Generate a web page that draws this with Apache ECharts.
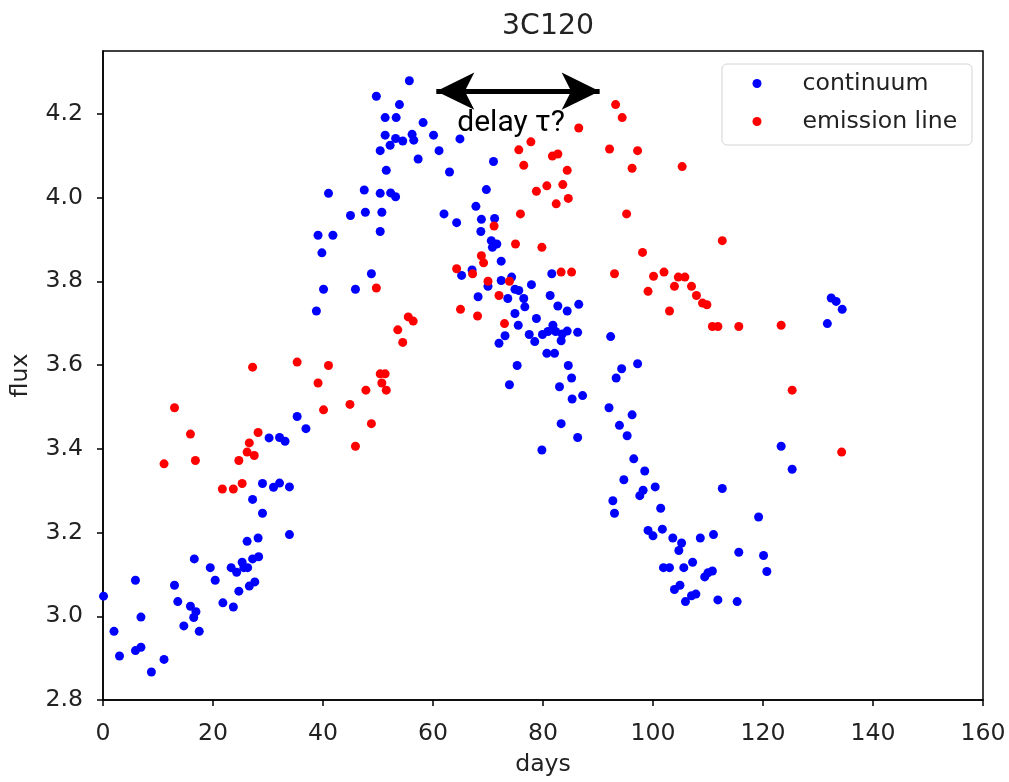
<!DOCTYPE html>
<html>
<head>
<meta charset="utf-8">
<style>
  html, body { margin: 0; padding: 0; background: #fff; }
  #chart { width: 1009px; height: 782px; }
</style>
<script src="https://cdn.jsdelivr.net/npm/echarts@6/dist/echarts.min.js"></script>
</head>
<body>
<div id="chart"></div>
<script>
// ---------- data ----------
const titleText = '3C120';
const seriesNames = ['continuum', 'emission line'];
const xTicks = [0, 20, 40, 60, 80, 100, 120, 140, 160];
const yTicks = [2.8, 3.0, 3.2, 3.4, 3.6, 3.8, 4.0, 4.2];

const continuumDays = [
  0.1, 2.0, 3.0, 5.9, 5.9, 6.9, 6.9, 8.8, 11.1, 13.0, 13.6, 14.7, 15.9, 16.6, 16.9, 16.5, 17.5,
  19.5, 20.4, 21.8, 23.3, 23.7, 24.3, 24.7, 25.3, 25.6, 26.3, 26.2, 26.6, 27.2, 27.6, 28.3, 28.2,
  27.2, 29.0, 29.0, 31.0, 32.1, 33.9, 33.9, 30.2, 32.1, 33.1, 35.3, 36.9,
  38.8, 39.8, 39.1, 41.8, 40.1, 41.0, 45.0, 45.9, 47.5, 47.7, 48.8, 49.7, 50.4, 50.4, 50.4, 50.7,
  51.3, 51.3, 51.5, 52.2, 52.3, 53.2, 53.3, 53.2, 53.9, 54.5, 55.7, 56.2, 56.5, 57.3, 58.2, 60.1,
  61.1, 62.0, 63.0, 64.3, 64.9, 65.2, 67.1, 67.8, 68.2, 68.7, 68.8, 69.7, 70.0, 70.6, 70.8, 71.0,
  71.2, 71.6, 72.0, 72.4, 72.4, 73.1, 73.6, 73.9, 74.3, 74.9, 74.9, 75.3, 75.5, 75.6, 76.5, 76.7,
  77.5, 77.9, 78.5, 78.8, 79.8, 79.9, 80.7, 80.9, 81.3, 81.6, 81.8, 82.1, 82.3, 82.7, 83.0, 83.3,
  83.3, 83.5, 84.4, 84.4, 84.6, 85.2, 85.3, 86.3, 86.3, 86.5, 87.2,
  92.0, 92.3, 92.7, 93.0, 93.3, 93.9, 94.3, 94.7, 95.3, 96.2, 96.5, 97.2, 97.6, 98.2, 98.5, 99.1,
  100.0, 100.4, 101.4, 101.7, 101.9, 103.0, 103.6, 103.9, 104.7, 104.9, 105.2, 105.6, 105.9,
  107.0, 107.2, 107.8, 108.6, 109.4, 110.0, 110.8, 111.0, 111.8, 112.6, 115.3, 115.6, 119.2,
  120.1, 120.7, 123.3, 125.3, 131.7, 132.4, 133.3, 134.4
];
const continuumFlux = [
  3.048, 2.964, 2.905, 3.086, 2.918, 2.926, 2.998, 2.867, 2.897, 3.074, 3.035, 2.977, 3.024, 3.137, 3.011, 2.997, 2.964,
  3.116, 3.086, 3.032, 3.116, 3.022, 3.105, 3.060, 3.129, 3.116, 3.116, 3.179, 3.072, 3.137, 3.082, 3.142, 3.187,
  3.279, 3.246, 3.317, 3.308, 3.318, 3.309, 3.195, 3.426, 3.427, 3.418, 3.477, 3.448,
  3.729, 3.868, 3.910, 3.910, 3.781, 4.010, 3.957, 3.781, 4.018, 3.965, 3.818, 4.242, 4.112, 4.010, 3.919, 3.965,
  4.191, 4.149, 4.065, 4.125, 4.011, 4.002, 4.191, 4.141, 4.222, 4.135, 4.279, 4.151, 4.137, 4.092, 4.179, 4.149,
  4.112, 3.961, 4.061, 3.940, 4.140, 3.814, 3.827, 3.979, 3.763, 3.919, 3.948, 4.019, 3.788, 3.897, 3.881, 4.086,
  3.950, 3.889, 3.652, 3.848, 3.802, 3.670, 3.759, 3.553, 3.810, 3.781, 3.723, 3.599, 3.695, 3.778, 3.759, 3.739,
  3.673, 3.792, 3.656, 3.711, 3.397, 3.673, 3.628, 3.680, 3.766, 3.818, 3.695, 3.628, 3.680, 3.741, 3.548, 3.658,
  3.460, 3.674, 3.729, 3.681, 3.599, 3.569, 3.519, 3.678, 3.427, 3.745, 3.527,
  3.498, 3.668, 3.276, 3.246, 3.569, 3.456, 3.591, 3.326, 3.431, 3.481, 3.376, 3.603, 3.288, 3.301, 3.347, 3.205,
  3.192, 3.309, 3.258, 3.208, 3.116, 3.116, 3.187, 3.064, 3.157, 3.074, 3.175, 3.116, 3.035,
  3.049, 3.129, 3.053, 3.187, 3.094, 3.104, 3.108, 3.195, 3.039, 3.305, 3.035, 3.153, 3.237,
  3.145, 3.107, 3.406, 3.351, 3.699, 3.760, 3.752, 3.733
];

const lineDays = [
  11.1, 13.0, 15.9, 16.8, 21.7, 23.7, 24.7, 25.3, 26.2, 26.6, 27.2, 27.5, 28.2, 35.3, 39.1, 40.1,
  41.0, 44.9, 45.9, 47.8, 48.8, 49.7, 50.4, 50.7, 51.3, 51.5, 53.6, 54.5, 55.5, 56.4, 64.3, 65.0,
  67.2, 68.1, 68.8, 69.2, 70.0, 71.1, 72.0, 73.0, 73.9, 75.0, 75.6, 75.9, 76.5, 77.8, 78.8, 79.8,
  80.7, 81.7, 82.4, 82.7, 83.3, 83.6, 84.4, 84.6, 85.2, 86.5, 92.1, 93.0, 93.2, 94.4, 95.2, 96.2,
  97.2, 98.1, 99.1, 100.1, 102.0, 103.0, 103.9, 104.6, 105.3, 105.8, 107.0, 107.9, 109.0, 109.8,
  110.8, 111.8, 112.6, 115.6, 123.3, 125.3, 134.3
];
const lineFlux = [
  3.364, 3.498, 3.435, 3.372, 3.304, 3.304, 3.372, 3.317, 3.392, 3.414, 3.595, 3.384, 3.439, 3.607, 3.557, 3.493,
  3.599, 3.506, 3.406, 3.540, 3.460, 3.784, 3.579, 3.557, 3.579, 3.540, 3.684, 3.654, 3.715, 3.705, 3.830, 3.733,
  3.818, 3.717, 3.861, 3.844, 3.800, 3.932, 3.766, 3.699, 3.800, 3.889, 4.114, 3.961, 4.077, 4.133, 4.015, 3.881,
  4.028, 4.099, 3.985, 4.104, 3.822, 4.031, 4.065, 3.998, 3.822, 4.166, 4.116, 3.818, 4.222, 4.191, 3.961, 4.070,
  4.112, 3.869, 3.776, 3.812, 3.822, 3.729, 3.788, 3.810, 4.074, 3.810, 3.788, 3.766, 3.748, 3.744,
  3.692, 3.692, 3.897, 3.692, 3.695, 3.540, 3.392
];

// annotation (data units)
const delayArrow = [[60.6, 4.254], [90.3, 4.254]];
const delayLabel = { text: 'delay τ?', at: [74.2, 4.177] };

// ---------- chart ----------
const zip = (xs, ys) => xs.map((x, i) => [x, ys[i]]);
const FONT = 'DejaVu Sans';
const TXT = '#222';
const FS = 23.6;

const chart = echarts.init(document.getElementById('chart'), null, { renderer: 'canvas' });
chart.setOption({
  animation: false,
  backgroundColor: '#fff',
  title: {
    text: titleText,
    left: 543, top: 8, textAlign: 'center',
    textStyle: { fontFamily: FONT, fontSize: 28.3, fontWeight: 'normal', color: TXT }
  },
  grid: {
    left: 103, right: 26, top: 51, bottom: 77,
    show: true, borderColor: '#000', borderWidth: 1.5, backgroundColor: 'transparent'
  },
  legend: {
    data: seriesNames,
    orient: 'vertical',
    left: 752.5, top: 71.5,
    padding: 0,
    icon: 'circle',
    itemWidth: 9, itemHeight: 9,
    itemGap: 14,
    textStyle: { fontFamily: FONT, fontSize: FS, color: TXT, lineHeight: FS, padding: [0, 0, 0, 36] }
  },
  graphic: [{
    type: 'rect', z: 3,
    shape: { x: 722, y: 64, width: 250, height: 81, r: 5 },
    style: { fill: 'rgba(255,255,255,0.8)', stroke: '#d4d4d4', lineWidth: 1 }
  }],
  xAxis: {
    type: 'value', min: xTicks[0], max: xTicks[xTicks.length - 1], interval: 20,
    name: 'days', nameLocation: 'middle', nameGap: 53,
    nameTextStyle: { fontFamily: FONT, fontSize: FS, color: TXT },
    axisLine: { show: true, onZero: false, lineStyle: { color: '#000', width: 1.5 } },
    axisTick: { show: true, length: 6, lineStyle: { color: '#000', width: 1.5 } },
    axisLabel: { margin: 22, fontFamily: FONT, fontSize: FS, color: TXT, showMinLabel: true, showMaxLabel: true },
    splitLine: { show: false }
  },
  yAxis: {
    type: 'value', min: yTicks[0], max: 4.35,
    name: 'flux', nameLocation: 'middle', nameGap: 70,
    nameTextStyle: { fontFamily: FONT, fontSize: FS, color: TXT },
    axisLine: { show: true, onZero: false, lineStyle: { color: '#000', width: 1.5 } },
    axisTick: { show: true, length: 6, customValues: yTicks, lineStyle: { color: '#000', width: 1.5 } },
    axisLabel: {
      margin: 20, fontFamily: FONT, fontSize: FS, color: TXT, customValues: yTicks,
      formatter: v => Number(v).toFixed(1)
    },
    splitLine: { show: false }
  },
  series: [
    {
      name: seriesNames[0], type: 'scatter', symbol: 'circle', symbolSize: 9,
      itemStyle: { color: '#0000ff', opacity: 1 },
      data: zip(continuumDays, continuumFlux),
      z: 2
    },
    {
      name: seriesNames[1], type: 'scatter', symbol: 'circle', symbolSize: 9,
      itemStyle: { color: '#ff0000', opacity: 1 },
      data: zip(lineDays, lineFlux),
      z: 2
    },
    {
      name: 'annotation', type: 'scatter', data: [], silent: true, z: 5,
      markLine: {
        silent: true, animation: false,
        symbol: ['arrow', 'arrow'], symbolSize: [28, 38],
        lineStyle: { color: '#000', width: 5, type: 'solid' },
        label: { show: false },
        emphasis: { disabled: true },
        data: [[{ coord: delayArrow[0] }, { coord: delayArrow[1] }]]
      },
      markPoint: {
        silent: true, animation: false,
        symbol: 'circle', symbolSize: 1,
        itemStyle: { color: 'rgba(0,0,0,0)' },
        label: {
          show: true, position: 'inside', formatter: delayLabel.text,
          fontFamily: 'Roboto', fontSize: 30, color: '#000'
        },
        data: [{ coord: delayLabel.at }]
      }
    }
  ]
});
</script>
</body>
</html>
